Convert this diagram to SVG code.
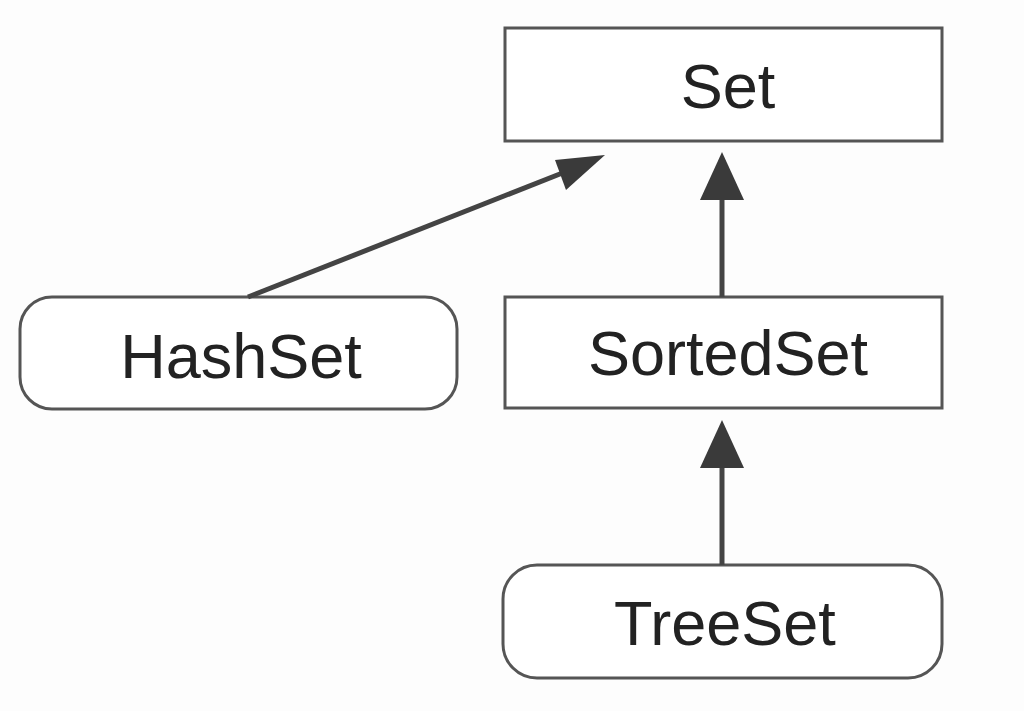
<svg xmlns="http://www.w3.org/2000/svg" width="1024" height="711" viewBox="0 0 1024 711">
<style>
.box{fill:#ffffff;stroke:#555555;stroke-width:3}
.lbl{font-family:"Liberation Sans",Arial,sans-serif;font-size:63px;fill:#222222;text-anchor:middle}
.edge{stroke:#444444;stroke-width:5;fill:none}
.head{fill:#3a3a3a}
</style>
<rect width="1024" height="711" fill="#fdfdfd"/>
<g id="node-set">
<rect class="box" x="505" y="28" width="437" height="113"/>
<text class="lbl" x="728" y="108">Set</text>
</g>
<g id="node-hashset">
<rect class="box" x="20" y="297" width="437" height="112" rx="32" ry="32"/>
<text class="lbl" x="241" y="378">HashSet</text>
</g>
<g id="node-sortedset">
<rect class="box" x="505" y="297" width="437" height="111"/>
<text class="lbl" x="728" y="375">SortedSet</text>
</g>
<g id="node-treeset">
<rect class="box" x="503" y="565" width="439" height="113" rx="34" ry="34"/>
<text class="lbl" x="725" y="645">TreeSet</text>
</g>
<g id="connectors">
<line class="edge" x1="248" y1="297" x2="570" y2="170"/>
<polygon class="head" points="605,155 555,160 566,190"/>
<line class="edge" x1="722" y1="297" x2="722" y2="195"/>
<polygon class="head" points="722,152 700,200 744,200"/>
<line class="edge" x1="722" y1="565" x2="722" y2="462"/>
<polygon class="head" points="722,420 700,468 744,468"/>
</g>
</svg>
